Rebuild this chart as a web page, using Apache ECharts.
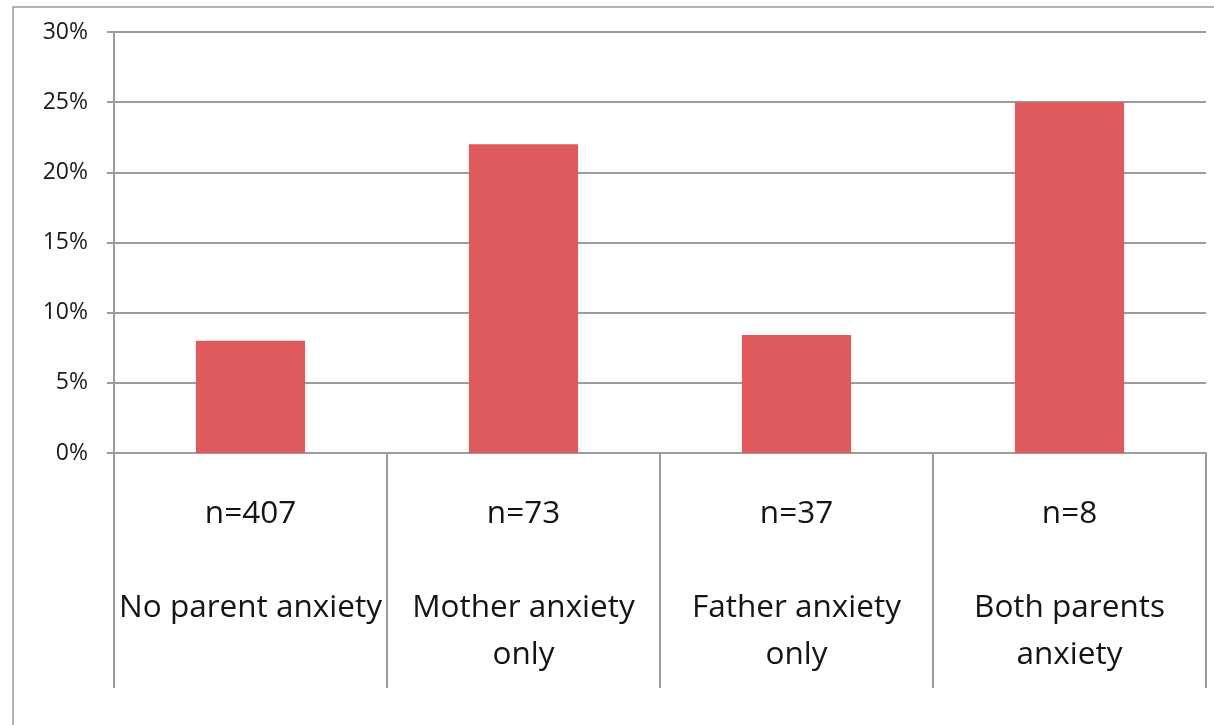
<!DOCTYPE html>
<html>
<head>
<meta charset="utf-8">
<script src="https://cdn.jsdelivr.net/npm/echarts@6/dist/echarts.min.js"></script>
<style>
html,body{margin:0;padding:0;background:#fff;}
#chart{width:1214px;height:725px;}
</style>
</head>
<body>
<div id="chart"></div>
<script>
var categories = ["No parent anxiety", "Mother anxiety\nonly", "Father anxiety\nonly", "Both parents\nanxiety"];
var sampleSizes = ["n=407", "n=73", "n=37", "n=8"];
var values = [8, 22, 8.4, 25];
var yTicks = [0, 5, 10, 15, 20, 25, 30];

var labels = categories.map(function (c, i) { return sampleSizes[i] + "\n\n" + c; });

var chart = echarts.init(document.getElementById('chart'));
var gray = '#9c9c9c';
chart.setOption({
  animation: false,
  backgroundColor: '#ffffff',
  graphic: [{
    type: 'rect',
    shape: { x: 13, y: 7, width: 1400, height: 900 },
    style: { fill: 'none', stroke: gray, lineWidth: 1.5 },
    silent: true
  }],
  grid: { left: 114, right: 8, top: 32, bottom: 272 },
  xAxis: {
    type: 'category',
    data: labels,
    axisLine: { show: true, lineStyle: { color: gray, width: 2 } },
    axisTick: { show: true, alignWithLabel: false, interval: 0, length: 235, lineStyle: { color: gray, width: 2 } },
    axisLabel: {
      interval: 0, margin: 38, color: '#151515', fontFamily: 'Open Sans', fontSize: 31.5, lineHeight: 47,
      align: 'center', verticalAlign: 'top'
    },
    splitLine: { show: false }
  },
  yAxis: {
    type: 'value',
    min: yTicks[0],
    max: yTicks[yTicks.length - 1],
    interval: 5,
    axisLine: { show: true, lineStyle: { color: gray, width: 2 } },
    axisTick: { show: true, length: 7, lineStyle: { color: gray, width: 2 } },
    axisLabel: { formatter: '{value}%', color: '#1a1a1a', fontFamily: 'Open Sans', fontSize: 23, margin: 26 },
    splitLine: { show: true, lineStyle: { color: gray, width: 2 } }
  },
  series: [{
    type: 'bar',
    data: values,
    barWidth: '40%',
    itemStyle: { color: '#de5a5d' }
  }]
});
</script>
</body>
</html>
